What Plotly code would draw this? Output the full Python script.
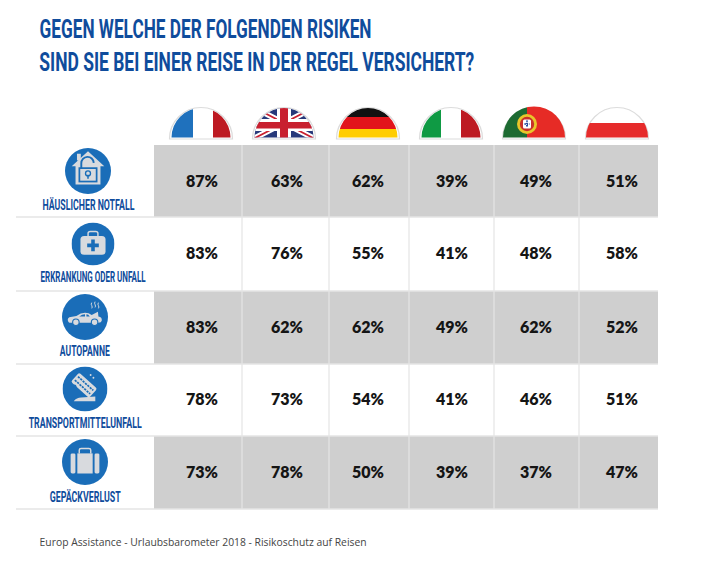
import base64
import json
import plotly.graph_objects as go

# chart content
title_lines = ["GEGEN WELCHE DER FOLGENDEN RISIKEN", "SIND SIE BEI EINER REISE IN DER REGEL VERSICHERT?"]
source = "Europ Assistance - Urlaubsbarometer 2018 - Risikoschutz auf Reisen"
risks = ["HÄUSLICHER NOTFALL", "ERKRANKUNG ODER UNFALL", "AUTOPANNE", "TRANSPORTMITTELUNFALL", "GEPÄCKVERLUST"]
haeuslich = [87, 63, 62, 39, 49, 51]
erkrankung = [83, 76, 55, 41, 48, 58]
autopanne = [83, 62, 62, 49, 62, 52]
transport = [78, 73, 54, 41, 46, 51]
gepaeck = [73, 78, 50, 39, 37, 47]
row_shade = [1, 0, 1, 0, 1]

# layout, the axes are the page in pixels
col_edges = [154, 242, 329, 409, 494, 579, 658]
row_edges = [145, 217, 291, 364, 436, 509]
value_x = [202, 287, 368, 452, 536, 622]
value_y = [182.5, 254.5, 328.5, 400.5, 473.5]
flag_centers = [201, 284, 368, 451, 534, 617]
icon_x = [88, 93, 85, 85, 85]
icon_y = [171, 244, 317, 389, 462]
icon_size = [46, 43, 46, 45, 46]
label_y = [205, 277, 351, 423, 497]
title_x = [205, 257]
title_y = [29, 62]
title_widths = [332, 435]
label_widths = [92, 105, 50, 113, 71]
source_width = 327

BLUE = "#0f4c9c"
CIRCLE = "#1a6db8"
GLYPH = "#d8dade"
LINE = "#e4e4e4"
GREY = "#cfcfcf"


def svg_uri(inner, w, h):
    svg = f'<svg xmlns="http://www.w3.org/2000/svg" width="{w*4}" height="{h*4}" viewBox="0 0 {w} {h}">{inner}</svg>'
    return "data:image/svg+xml;base64," + base64.b64encode(svg.encode()).decode()


def flag(stripes, border="#dcdcdc", r=29.5):
    # half disc clipped around the flag artwork, 66 wide, 34 high, base line at y=33
    return (
        f'<defs><clipPath id="c"><path d="M{33-r} 31.5 A{r} {r} 0 0 1 {33+r} 31.5 Z"/></clipPath></defs>'
        f'<path d="M1.5 33 A31.5 31.5 0 0 1 64.5 33 Z" fill="#fff" stroke="{border}" stroke-width="1.2"/>'
        f'<g clip-path="url(#c)">{stripes}</g>'
    )


france = '<rect x="0" width="25" height="34" fill="#1f71bd"/><rect x="45" width="21" height="34" fill="#bd1a22"/>'
uk = (
    '<rect width="66" height="34" fill="#27397a"/>'
    '<path d="M0 0 L66 34 M66 0 L0 34" stroke="#fff" stroke-width="5.5"/>'
    '<path d="M0 0 L66 34 M66 0 L0 34" stroke="#c8202f" stroke-width="1.8"/>'
    '<rect x="26" width="14" height="34" fill="#fff"/><rect y="13" width="66" height="12" fill="#fff"/>'
    '<rect x="29" width="8" height="34" fill="#c8202f"/><rect y="16" width="66" height="6.5" fill="#c8202f"/>'
)
germany = '<rect width="66" height="11" fill="#111"/><rect y="11" width="66" height="12" fill="#e2141b"/><rect y="23" width="66" height="11" fill="#ffcd00"/>'
italy = '<rect width="23" height="34" fill="#0f9a44"/><rect x="43" width="23" height="34" fill="#bd1a22"/>'
portugal = (
    '<rect width="26" height="34" fill="#1d6b32"/><rect x="26" width="40" height="34" fill="#e62b26"/>'
    '<circle cx="26" cy="18" r="10" fill="#e8c62a"/><circle cx="26" cy="18" r="7.2" fill="#c9302a"/>'
    '<rect x="22" y="13.5" width="8" height="9" rx="1.5" fill="#fff"/>'
    '<path d="M26 14.5 V21.5 M23.5 18 H28.5" stroke="#2a4fa0" stroke-width="2" stroke-dasharray="1.3 1"/>'
)
poland = '<rect y="17" width="66" height="17" fill="#e62b2b"/>'
flags = [flag(france), flag(uk), flag(germany), flag(italy), flag(portugal, r=31), flag(poland, r=31)]


def disc(glyph):
    return f'<circle cx="24" cy="24" r="24" fill="{CIRCLE}"/>{glyph}'


house = (
    f'<rect x="12.5" y="6" width="4" height="7" fill="{GLYPH}"/>'
    f'<path d="M24 3.5 L41 19 H37 V38 H11 V19 H7 Z" fill="{GLYPH}"/>'
    f'<path d="M17 21 V16 A6.5 6.5 0 0 1 30 15.5" fill="none" stroke="{CIRCLE}" stroke-width="2"/>'
    f'<rect x="15" y="21" width="18" height="14" fill="none" stroke="{CIRCLE}" stroke-width="1.8"/>'
    f'<circle cx="24" cy="26.5" r="2.6" fill="none" stroke="{CIRCLE}" stroke-width="1.4"/>'
    f'<path d="M24 28 V32" stroke="{CIRCLE}" stroke-width="1.6"/>'
)
medkit = (
    f'<path d="M18.5 15 V12 Q18.5 10 21 10 H27 Q29.5 10 29.5 12 V15" fill="none" stroke="{GLYPH}" stroke-width="1.6"/>'
    f'<rect x="10" y="15" width="28" height="21" rx="4" fill="{GLYPH}"/>'
    f'<path d="M24 19 V32 M17.5 25.5 H30.5" stroke="{CIRCLE}" stroke-width="4"/>'
)
car = (
    f'<path d="M6 27 Q6 24.5 9 24 L15 23 Q19.5 19.5 24 19.5 Q28 19.5 31 22 L37.5 18.5 L38 23.5 Q42 24 41.5 28 '
    f'Q41 30 38 30 H9 Q6.5 30 6 27 Z" fill="{GLYPH}"/>'
    f'<path d="M18 23.5 Q21 21 24 21 V23.5 Z M25.5 21 Q27.5 21 29 23.5 H25.5 Z" fill="{CIRCLE}"/>'
    f'<circle cx="14.5" cy="29.5" r="3.4" fill="{GLYPH}" stroke="{CIRCLE}" stroke-width="1.2"/>'
    f'<circle cx="34" cy="29.5" r="3.4" fill="{GLYPH}" stroke="{CIRCLE}" stroke-width="1.2"/>'
    f'<path d="M31 9 q-1 1.8 0 3 q1 1.8 0 3 M34.5 8 q-1 1.8 0 3 q1 1.8 0 3 M38 9 q-1 1.8 0 3 q1 1.8 0 3" '
    f'fill="none" stroke="{GLYPH}" stroke-width="1"/>'
)
bus = (
    f'<g transform="rotate(-48 23 20)"><rect x="16.5" y="7" width="13" height="26" rx="2" fill="{GLYPH}"/>'
    f'<path d="M20.5 9 V31" stroke="{CIRCLE}" stroke-width="1.8" stroke-dasharray="2.4 1"/>'
    f'<path d="M25.5 9 V31" stroke="{CIRCLE}" stroke-width="1.8" stroke-dasharray="2.4 1"/>'
    f'</g><circle cx="13" cy="21" r="1.8" fill="{CIRCLE}"/>'
    f'<path d="M12 37 Q15 33 20 33 L35 32 V37 Z" fill="{GLYPH}"/>'
    f'<circle cx="30" cy="9" r="1" fill="{GLYPH}"/><circle cx="33" cy="12" r="1" fill="{GLYPH}"/>'
)
bag = (
    f'<path d="M18 15 V11.5 Q18 10 20 10 H28 Q30 10 30 11.5 V15" fill="none" stroke="{GLYPH}" stroke-width="1.5"/>'
    f'<rect x="9" y="15" width="5" height="21" rx="1.5" fill="{GLYPH}"/>'
    f'<rect x="16" y="15" width="16" height="21" fill="{GLYPH}"/>'
    f'<rect x="34" y="15" width="5" height="21" rx="1.5" fill="{GLYPH}"/>'
)
icons = [disc(house), disc(medkit), disc(car), disc(bus), disc(bag)]

fig = go.Figure()

fig.add_trace(go.Heatmap(
    x=col_edges,
    y=row_edges,
    z=[[shade] * len(col_edges[:-1]) for shade in row_shade],
    colorscale=[[0, "#ffffff"], [1, GREY]],
    zmin=0,
    zmax=1,
    showscale=False,
    hoverinfo="skip",
))

for values, y in zip([haeuslich, erkrankung, autopanne, transport, gepaeck], value_y):
    fig.add_trace(go.Scatter(
        x=value_x,
        y=[y] * len(values),
        text=[f"{v}%" for v in values],
        mode="text",
        textposition="middle center",
        textfont=dict(family="Lato", size=16, color="#151515", weight=800),
        hoverinfo="skip",
    ))

# grid lines
for y in row_edges[1:]:
    fig.add_shape(type="line", x0=16, x1=col_edges[-1], y0=y, y1=y, line=dict(color=LINE, width=1.5), layer="above")
for x in col_edges[1:-1]:
    fig.add_shape(type="line", x0=x, x1=x, y0=row_edges[0], y1=row_edges[-1], line=dict(color=LINE, width=1.2), layer="above")

images = []
for cx, art in zip(flag_centers, flags):
    images.append(dict(source=svg_uri(art, 66, 34), xref="x", yref="y", x=cx - 33, y=106,
                       sizex=66, sizey=34, sizing="stretch", xanchor="left", yanchor="top", layer="above"))
for cx, cy, size, art in zip(icon_x, icon_y, icon_size, icons):
    images.append(dict(source=svg_uri(art, 48, 48), xref="x", yref="y", x=cx - size / 2, y=cy - size / 2,
                       sizex=size, sizey=size, sizing="stretch", xanchor="left", yanchor="top", layer="above"))

annotations = []
for line, x, y in zip(title_lines, title_x, title_y):
    annotations.append(dict(text=line, x=x, y=y, xref="x", yref="y", xanchor="center", yanchor="middle", showarrow=False,
                            font=dict(family="Roboto", size=26, color=BLUE, weight=700)))
for name, cx, y in zip(risks, icon_x, label_y):
    annotations.append(dict(text=name, x=cx, y=y, xref="x", yref="y", xanchor="center", yanchor="middle", showarrow=False,
                            font=dict(family="Roboto", size=14, color=BLUE, weight=700)))
annotations.append(dict(text=source, x=202.5, y=542, xref="x", yref="y", xanchor="center", yanchor="middle", showarrow=False,
                        font=dict(family="Open Sans", size=10.5, color="#444444")))

fig.update_layout(
    width=710,
    height=571,
    margin=dict(l=0, r=0, t=0, b=0),
    paper_bgcolor="white",
    plot_bgcolor="white",
    xaxis=dict(range=[0, 710], visible=False, fixedrange=True),
    yaxis=dict(range=[571, 0], visible=False, fixedrange=True),
    images=images,
    annotations=annotations,
    showlegend=False,
)

# no condensed font is installed, so squeeze the headline texts to their widths
widths = dict(zip(title_lines + risks + [source], title_widths + label_widths + [source_width]))
squeeze = """
document.body.style.margin = '0';
var widths = %s;
document.querySelectorAll('.annotation-text').forEach(function (t) {
    var w = widths[t.textContent];
    if (w) {
        t.setAttribute('textLength', w);
        t.setAttribute('lengthAdjust', 'spacingAndGlyphs');
    }
});
""" % json.dumps(widths)

fig.write_html("out.html", post_script=squeeze, config=dict(displayModeBar=False))
